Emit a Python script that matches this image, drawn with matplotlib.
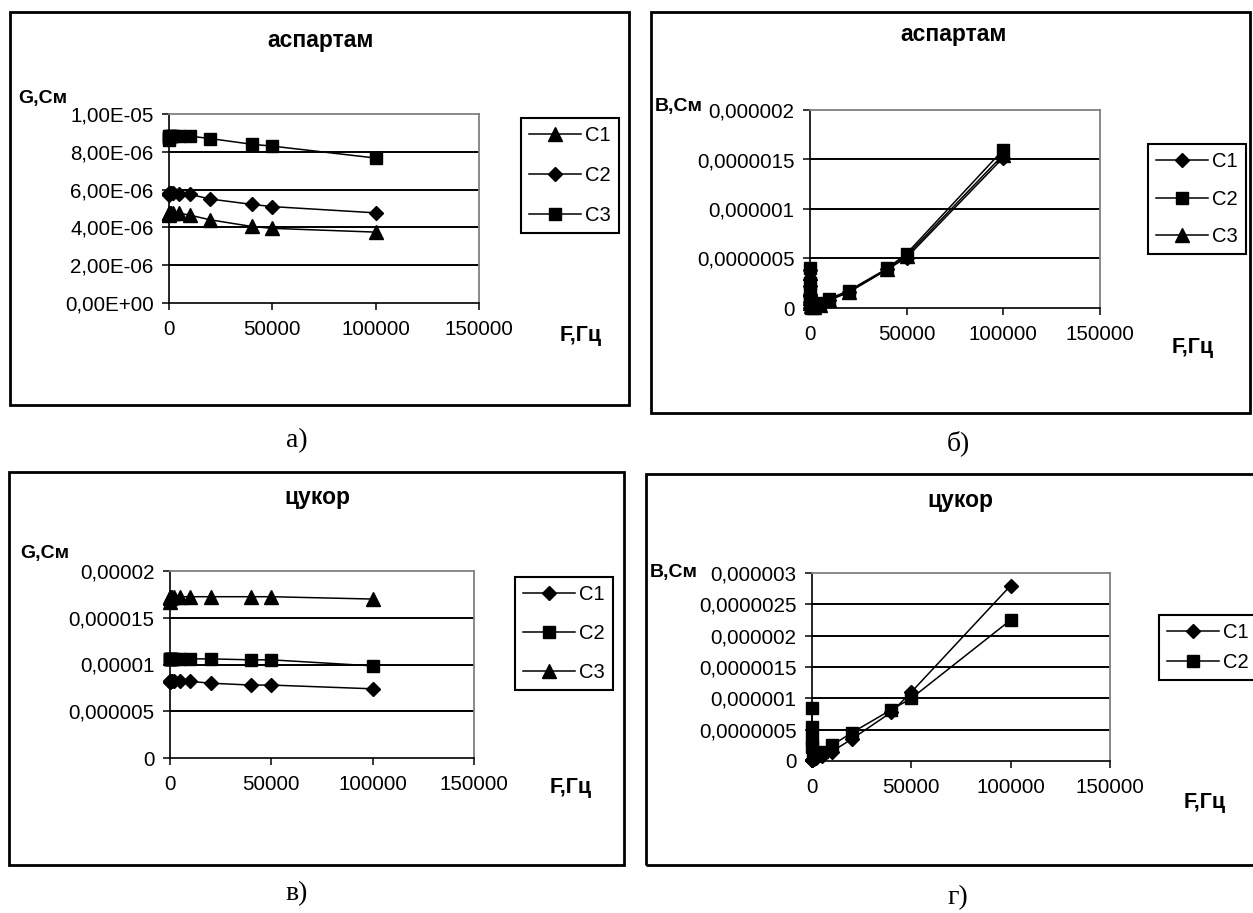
import matplotlib
matplotlib.use('Agg')
import matplotlib.pyplot as plt
from matplotlib.patches import Rectangle
from matplotlib.lines import Line2D

plt.rcParams['font.family'] = ['Liberation Sans', 'DejaVu Sans']

# частоты, Гц
freq = [20, 50, 100, 200, 500, 1000, 2000, 5000, 10000, 20000, 40000, 50000, 100000]

# а) аспартам, G
asp_G_C1 = [4.65e-6, 4.72e-6, 4.75e-6, 4.77e-6, 4.78e-6, 4.78e-6, 4.78e-6, 4.75e-6, 4.65e-6, 4.4e-6, 4.05e-6, 3.95e-6, 3.75e-6]
asp_G_C2 = [5.7e-6, 5.75e-6, 5.78e-6, 5.8e-6, 5.8e-6, 5.8e-6, 5.8e-6, 5.78e-6, 5.75e-6, 5.5e-6, 5.22e-6, 5.1e-6, 4.77e-6]
asp_G_C3 = [8.65e-6, 8.75e-6, 8.8e-6, 8.82e-6, 8.85e-6, 8.85e-6, 8.85e-6, 8.85e-6, 8.83e-6, 8.7e-6, 8.4e-6, 8.3e-6, 7.67e-6]

# б) аспартам, B
asp_B_C1 = [3.8e-7, 2.2e-7, 1.2e-7, 0.6e-7, 0.25e-7, 0.15e-7, 0.12e-7, 0.3e-7, 0.8e-7, 1.6e-7, 3.9e-7, 5.1e-7, 1.52e-6]
asp_B_C2 = [4.0e-7, 2.5e-7, 1.4e-7, 0.8e-7, 0.4e-7, 0.3e-7, 0.3e-7, 0.5e-7, 0.95e-7, 1.75e-7, 4.0e-7, 5.5e-7, 1.6e-6]
asp_B_C3 = [3.5e-7, 2.0e-7, 1.0e-7, 0.5e-7, 0.2e-7, 0.1e-7, 0.1e-7, 0.3e-7, 0.8e-7, 1.6e-7, 3.9e-7, 5.3e-7, 1.55e-6]

# в) цукор, G
suc_G_C1 = [8.1e-6, 8.15e-6, 8.2e-6, 8.2e-6, 8.2e-6, 8.2e-6, 8.2e-6, 8.2e-6, 8.2e-6, 8.0e-6, 7.8e-6, 7.8e-6, 7.4e-6]
suc_G_C2 = [1.06e-5, 1.06e-5, 1.06e-5, 1.06e-5, 1.06e-5, 1.06e-5, 1.06e-5, 1.06e-5, 1.06e-5, 1.06e-5, 1.05e-5, 1.05e-5, 0.985e-5]
suc_G_C3 = [1.67e-5, 1.71e-5, 1.72e-5, 1.725e-5, 1.725e-5, 1.725e-5, 1.725e-5, 1.725e-5, 1.725e-5, 1.725e-5, 1.725e-5, 1.725e-5, 1.70e-5]

# г) цукор, B
suc_B_C1 = [0.02e-6, 0.02e-6, 0.02e-6, 0.02e-6, 0.03e-6, 0.03e-6, 0.04e-6, 0.08e-6, 0.15e-6, 0.35e-6, 0.78e-6, 1.1e-6, 2.8e-6]
suc_B_C2 = [0.85e-6, 0.55e-6, 0.35e-6, 0.22e-6, 0.13e-6, 0.1e-6, 0.1e-6, 0.15e-6, 0.25e-6, 0.45e-6, 0.82e-6, 1.0e-6, 2.25e-6]

xticks = [0, 50000, 100000, 150000]
xlabels = ['0', '50000', '100000', '150000']

yt_a = [0, 2e-6, 4e-6, 6e-6, 8e-6, 1e-5]
yl_a = ['0,00E+00', '2,00E-06', '4,00E-06', '6,00E-06', '8,00E-06', '1,00E-05']
yt_b = [0, 5e-7, 1e-6, 1.5e-6, 2e-6]
yl_b = ['0', '0,0000005', '0,000001', '0,0000015', '0,000002']
yt_c = [0, 5e-6, 1e-5, 1.5e-5, 2e-5]
yl_c = ['0', '0,000005', '0,00001', '0,000015', '0,00002']
yt_d = [0, 5e-7, 1e-6, 1.5e-6, 2e-6, 2.5e-6, 3e-6]
yl_d = ['0', '0,0000005', '0,000001', '0,0000015', '0,000002', '0,0000025', '0,000003']

W, H = 1253, 913
fig = plt.figure(figsize=(W / 100, H / 100), dpi=100)


def box(x0, y0, x1, y1):
    return [x0 / W, 1 - y1 / H, (x1 - x0) / W, (y1 - y0) / H]


def frame(x0, y0, x1, y1):
    fig.patches.append(Rectangle((x0 / W, 1 - y1 / H), (x1 - x0) / W, (y1 - y0) / H,
                                 transform=fig.transFigure, fill=False,
                                 edgecolor='black', linewidth=2))


def txt(x, y, s, **kw):
    fig.text(x / W, 1 - y / H, s, **kw)


def panel(pos, yt, yl, series, title, tpos, ylab, ypos, fpos, lpos, lspace):
    ax = fig.add_axes(box(*pos))
    for ys, mk, ms, lab in series:
        ax.plot(freq, ys, color='black', lw=1.1, marker=mk, markersize=ms,
                markerfacecolor='black', markeredgecolor='black', label=lab,
                clip_on=False, zorder=3)
    ax.set_xlim(0, 150000)
    ax.set_ylim(yt[0], yt[-1])
    ax.set_xticks(xticks)
    ax.set_xticklabels(xlabels)
    ax.set_yticks(yt)
    ax.set_yticklabels(yl)
    for v in yt[1:-1]:
        ax.axhline(v, color='black', lw=1.4, zorder=1)
    ax.tick_params(direction='out', length=5, width=1.1, labelsize=14.8, color='black')
    ax.tick_params(axis='x', pad=7.5)
    ax.tick_params(axis='y', pad=6)
    for s in ['left', 'bottom']:
        ax.spines[s].set_color('black')
        ax.spines[s].set_linewidth(1.2)
    for s in ['top', 'right']:
        ax.spines[s].set_color('#808080')
        ax.spines[s].set_linewidth(1.3)
    txt(tpos[0], tpos[1], title, ha='center', va='center', fontsize=16.5, fontweight='bold')
    txt(ypos[0], ypos[1], ylab, ha='left', va='center', fontsize=14, fontweight='bold')
    txt(fpos[0], fpos[1], 'F,Гц', ha='left', va='center', fontsize=15.5, fontweight='bold')
    handles = [Line2D([], [], color='black', lw=1.1, marker=mk, markersize=ms,
                      markerfacecolor='black', markeredgecolor='black')
               for ys, mk, ms, lab in series]
    leg = fig.legend(handles, [lab for ys, mk, ms, lab in series], loc='upper left',
                     bbox_to_anchor=(lpos[0] / W, 1 - lpos[1] / H), borderaxespad=0,
                     fontsize=14.5, handlelength=2.6, handletextpad=0.2,
                     borderpad=0.4, labelspacing=lspace, fancybox=False,
                     edgecolor='black', framealpha=1)
    leg.get_frame().set_linewidth(1.5)
    return ax


# outer frames
frame(10, 12, 629, 405)
frame(651, 12, 1250, 413)
frame(9, 472, 624, 865)
frame(646, 474, 1270, 865)

panel((169, 114, 479, 303), yt_a, yl_a,
      [(asp_G_C1, '^', 9.5, 'C1'), (asp_G_C2, 'D', 7, 'C2'), (asp_G_C3, 's', 8.5, 'C3')],
      'аспартам', (321, 40), 'G,См', (18, 98), (560, 335), (521, 118), 1.05)

panel((810, 110, 1100, 308), yt_b, yl_b,
      [(asp_B_C1, 'D', 7, 'C1'), (asp_B_C2, 's', 8.5, 'C2'), (asp_B_C3, '^', 9.5, 'C3')],
      'аспартам', (954, 35), 'В,См', (655, 106), (1172, 348), (1148, 144), 0.92)

panel((170, 571, 474, 758), yt_c, yl_c,
      [(suc_G_C1, 'D', 7, 'C1'), (suc_G_C2, 's', 8.5, 'C2'), (suc_G_C3, '^', 9.5, 'C3')],
      'цукор', (317, 497), 'G,См', (20, 553), (550, 787), (515, 577), 1.0)

panel((812, 573, 1110, 761), yt_d, yl_d,
      [(suc_B_C1, 'D', 7, 'C1'), (suc_B_C2, 's', 8.5, 'C2')],
      'цукор', (960, 500), 'В,См', (650, 572), (1184, 802), (1159, 615), 0.55)

# captions under the charts
cap = dict(ha='center', va='center', fontsize=20, family=['Liberation Serif', 'DejaVu Serif'])
txt(297, 441, 'а)', **cap)
txt(958, 443, 'б)', **cap)
txt(297, 894, 'в)', **cap)
txt(958, 898, 'г)', **cap)

fig.savefig('out.png', dpi=100)
